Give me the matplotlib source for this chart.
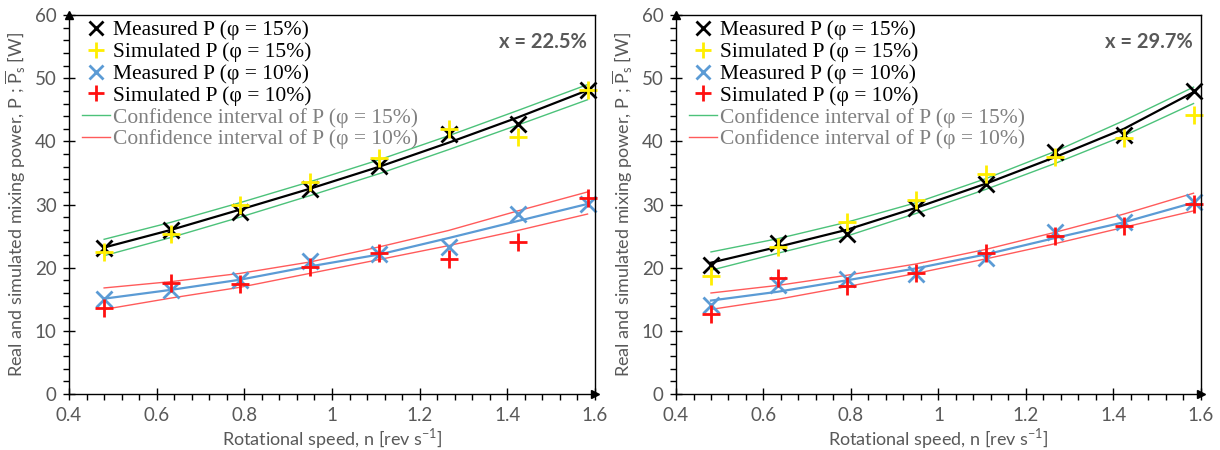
import numpy as np
import matplotlib.pyplot as plt
from matplotlib.lines import Line2D
from matplotlib.ticker import MultipleLocator

plt.rcParams['font.family'] = ['Lato', 'DejaVu Sans']
plt.rcParams['mathtext.fontset'] = 'custom'
plt.rcParams['mathtext.rm'] = 'Lato'

# rotational speed [rev/s]
n = [0.48, 0.633, 0.79, 0.949, 1.108, 1.266, 1.424, 1.583]

# x = 22.5 %
left_meas15 = [23.1, 25.9, 28.8, 32.5, 36.1, 41.2, 42.7, 48.1]
left_sim15 = [22.5, 25.4, 29.9, 33.6, 37.4, 42.0, 40.7, 48.2]
left_meas10 = [15.1, 16.4, 18.0, 21.0, 22.2, 23.3, 28.5, 30.1]
left_sim10 = [13.7, 17.6, 17.4, 20.1, 22.3, 21.4, 24.0, 31.0]
left_fit15 = [23.2, 26.0, 29.2, 32.5, 36.0, 39.8, 43.8, 48.1]
left_ci15_hi = [24.5, 27.2, 30.3, 33.6, 37.1, 40.9, 44.9, 49.0]
left_ci15_lo = [21.9, 24.8, 28.0, 31.4, 34.9, 38.7, 42.6, 46.6]
left_fit10 = [15.1, 16.5, 18.1, 20.2, 22.1, 24.7, 27.4, 30.1]
left_ci10_hi = [16.8, 17.8, 19.1, 20.9, 23.3, 25.9, 29.0, 32.0]
left_ci10_lo = [13.4, 15.2, 16.9, 19.1, 21.3, 23.5, 25.9, 28.5]

# x = 29.7 %
right_meas15 = [20.5, 23.9, 25.3, 29.4, 33.2, 38.4, 41.0, 48.0]
right_sim15 = [18.7, 23.3, 27.2, 30.8, 34.9, 37.6, 40.6, 44.2]
right_meas10 = [14.1, 17.2, 18.2, 19.0, 21.6, 25.7, 27.2, 30.4]
right_sim10 = [12.7, 18.3, 17.1, 19.1, 22.4, 25.1, 26.6, 30.1]
right_fit15 = [20.8, 23.3, 26.0, 29.5, 33.3, 37.5, 42.0, 47.8]
right_ci15_hi = [22.5, 24.6, 27.2, 30.3, 34.1, 38.4, 43.3, 48.6]
right_ci15_lo = [19.6, 22.3, 25.0, 28.6, 32.4, 36.5, 40.9, 46.0]
right_fit10 = [14.8, 16.2, 18.0, 19.9, 22.1, 24.7, 27.2, 30.3]
right_ci10_hi = [16.0, 17.2, 18.8, 20.6, 22.9, 25.6, 28.5, 31.8]
right_ci10_lo = [13.4, 15.0, 17.0, 19.1, 21.4, 23.8, 26.4, 29.0]

GREY = "#595959"
YEL = "#FFEE00"
BLUE = "#5B9BD5"
RED = "#FF1010"
GREEN = "#4CC27A"
LRED = "#FF5B5B"


def draw(ax, meas15, sim15, meas10, sim10, fit15, hi15, lo15, fit10, hi10, lo10, tag):
  ax.plot(n, hi15, "-", color=GREEN, lw=1)
  ax.plot(n, lo15, "-", color=GREEN, lw=1)
  ax.plot(n, hi10, "-", color=LRED, lw=1)
  ax.plot(n, lo10, "-", color=LRED, lw=1)
  ax.plot(n, fit15, "-", color="black", lw=1.6)
  ax.plot(n, fit10, "-", color=BLUE, lw=1.6)
  ax.plot(n, meas15, "x", color="black", ms=12, mew=2, ls="none", clip_on=False)
  ax.plot(n, sim15, "+", color=YEL, ms=13, mew=2, ls="none", clip_on=False)
  ax.plot(n, meas10, "x", color=BLUE, ms=12, mew=2, ls="none", clip_on=False)
  ax.plot(n, sim10, "+", color=RED, ms=13, mew=2, ls="none", clip_on=False)

  ax.set_xlim(0.4, 1.6)
  ax.set_ylim(0, 60)
  ax.xaxis.set_major_locator(MultipleLocator(0.2))
  ax.xaxis.set_minor_locator(MultipleLocator(0.04))
  ax.yaxis.set_major_locator(MultipleLocator(10))
  ax.yaxis.set_minor_locator(MultipleLocator(2))
  ax.xaxis.set_major_formatter(plt.FuncFormatter(lambda v, p: "%g" % round(v, 2)))
  ax.tick_params(which="major", direction="inout", length=8, width=1, labelsize=13.5,
                 labelcolor=GREY, pad=5)
  ax.tick_params(which="minor", direction="out", length=4, width=1)
  for s in ax.spines.values():
    s.set_linewidth(1)
  ax.plot([0], [1], "^", color="black", ms=6, transform=ax.transAxes, clip_on=False)
  ax.plot([1], [0], ">", color="black", ms=6, transform=ax.transAxes, clip_on=False)

  ax.set_xlabel("Rotational speed, n [rev s$^{-1}$]", fontsize=13, color=GREY, labelpad=2)
  ax.set_ylabel(r"Real and simulated mixing power, P ; $\overline{\mathrm{P}}_{\mathrm{s}}$ [W]",
                fontsize=13, color=GREY, labelpad=5)
  ax.text(0.985, 0.955, tag, transform=ax.transAxes, ha="right", va="top",
          fontsize=14.5, fontweight="bold", color=GREY)

  handles = [
    Line2D([], [], marker="x", color="black", ms=10, mew=2, ls="none"),
    Line2D([], [], marker="+", color=YEL, ms=11, mew=2, ls="none"),
    Line2D([], [], marker="x", color=BLUE, ms=10, mew=2, ls="none"),
    Line2D([], [], marker="+", color=RED, ms=11, mew=2, ls="none"),
    Line2D([], [], color=GREEN, lw=1),
    Line2D([], [], color=LRED, lw=1),
  ]
  labels = [
    "Measured P (\u03c6 = 15%)",
    "Simulated P (\u03c6 = 15%)",
    "Measured P (\u03c6 = 10%)",
    "Simulated P (\u03c6 = 10%)",
    "Confidence interval of P (\u03c6 = 15%)",
    "Confidence interval of P (\u03c6 = 10%)",
  ]
  leg = ax.legend(handles, labels, loc="upper left", frameon=False,
                  prop={"family": ["Liberation Serif", "DejaVu Serif"], "size": 15.5},
                  handlelength=1.3, handletextpad=0.15, labelspacing=0.08,
                  borderpad=0, borderaxespad=0, bbox_to_anchor=(0.025, 0.986))
  for i, t in enumerate(leg.get_texts()):
    t.set_color("black" if i < 4 else "#808080")


fig = plt.figure(figsize=(12.2, 4.5), dpi=100)
ax1 = fig.add_axes([0.0566, 0.1244, 0.4311, 0.842])
ax2 = fig.add_axes([0.5541, 0.1244, 0.4303, 0.842])

draw(ax1, left_meas15, left_sim15, left_meas10, left_sim10, left_fit15,
     left_ci15_hi, left_ci15_lo, left_fit10, left_ci10_hi, left_ci10_lo, "x = 22.5%")
draw(ax2, right_meas15, right_sim15, right_meas10, right_sim10, right_fit15,
     right_ci15_hi, right_ci15_lo, right_fit10, right_ci10_hi, right_ci10_lo, "x = 29.7%")

fig.savefig("out.png", dpi=100)
